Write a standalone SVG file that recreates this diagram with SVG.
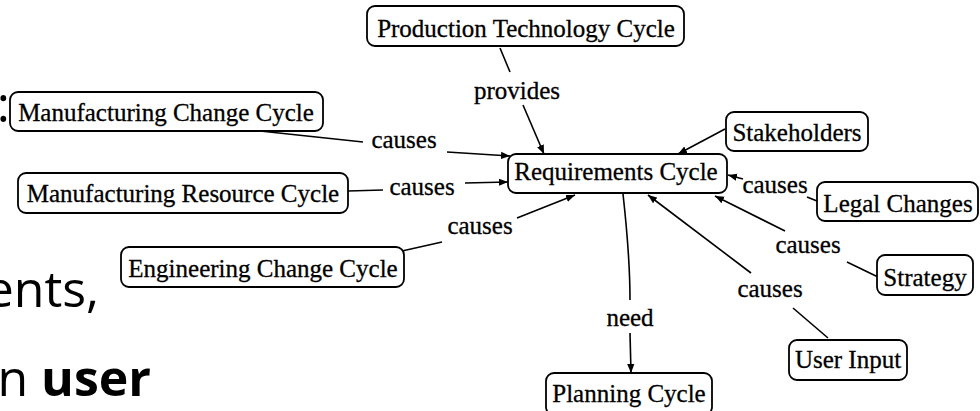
<svg xmlns="http://www.w3.org/2000/svg" width="980" height="411" viewBox="0 0 980 411">
<style>
.bg{font-family:"Open Sans","Noto Sans",sans-serif;font-size:50px;fill:#000}
.node rect{fill:#fff;stroke:#000;stroke-width:1.8}
.node text{font-family:"Liberation Serif","Times New Roman",serif;font-size:25px;fill:#000;stroke:#000;stroke-width:0.3;text-anchor:middle}
.edges path{fill:none;stroke:#000;stroke-width:1.6}
.edges text{font-family:"Liberation Serif","Times New Roman",serif;font-size:25px;fill:#000;stroke:#000;stroke-width:0.3;text-anchor:middle}
</style>
<defs>
<marker id="arr" viewBox="0 0 10 10" refX="10" refY="5" markerWidth="9" markerHeight="9" markerUnits="userSpaceOnUse" orient="auto">
<path d="M0,1 L10,5 L0,9 Z" fill="#000"/>
</marker>
</defs>
<rect width="980" height="411" fill="#fff"/>
<g id="background">
<text class="bg" x="10" y="122" text-anchor="end">:</text>
<text class="bg" x="99" y="307" text-anchor="end">ents,</text>
<text class="bg" x="151" y="396" text-anchor="end">n <tspan font-weight="bold">user</tspan></text>
</g>
<g class="edges" id="connectors">
<path d="M500,48 L510,72"/>
<text x="517" y="99">provides</text>
<path d="M523,105 L544,154" marker-end="url(#arr)"/>
<path d="M260,131 L363,142"/>
<text x="404" y="148">causes</text>
<path d="M447,152 L510,156" marker-end="url(#arr)"/>
<path d="M348,191 L383,190"/>
<text x="422" y="195">causes</text>
<path d="M465,183 L508,182" marker-end="url(#arr)"/>
<path d="M402,251 L442,242"/>
<text x="480" y="234">causes</text>
<path d="M517,218 L575,195" marker-end="url(#arr)"/>
<path d="M623,194 C627,230 630,260 630,300"/>
<text x="630" y="326">need</text>
<path d="M630,333 L631,373" marker-end="url(#arr)"/>
<path d="M725,129 L678,154" marker-end="url(#arr)"/>
<path d="M817,201 L807,197"/>
<text x="775" y="193">causes</text>
<path d="M743,179 L728,175" marker-end="url(#arr)"/>
<path d="M878,277 L847,262"/>
<text x="808" y="253">causes</text>
<path d="M785,231 L715,196" marker-end="url(#arr)"/>
<path d="M828,338 L793,308"/>
<text x="770" y="297">causes</text>
<path d="M751,273 L648,195" marker-end="url(#arr)"/>
</g>
<g class="node" id="production-technology-cycle"><rect x="367" y="6" width="317" height="40" rx="8"/><text x="526" y="37">Production Technology Cycle</text></g>
<g class="node" id="manufacturing-change-cycle"><rect x="10" y="92" width="313" height="39" rx="8"/><text x="166" y="121">Manufacturing Change Cycle</text></g>
<g class="node" id="manufacturing-resource-cycle"><rect x="18" y="173" width="330" height="40" rx="8"/><text x="183" y="202">Manufacturing Resource Cycle</text></g>
<g class="node" id="engineering-change-cycle"><rect x="121" y="247" width="283" height="40" rx="8"/><text x="263" y="277">Engineering Change Cycle</text></g>
<g class="node" id="requirements-cycle"><rect x="508" y="154" width="219" height="39" rx="8"/><text x="616" y="180">Requirements Cycle</text></g>
<g class="node" id="stakeholders"><rect x="726" y="112" width="142" height="39" rx="8"/><text x="797" y="141">Stakeholders</text></g>
<g class="node" id="legal-changes"><rect x="817" y="182" width="161" height="39" rx="8"/><text x="898" y="212">Legal Changes</text></g>
<g class="node" id="strategy"><rect x="877" y="255" width="96" height="40" rx="8"/><text x="925" y="286">Strategy</text></g>
<g class="node" id="user-input"><rect x="789" y="340" width="118" height="40" rx="8"/><text x="848" y="368">User Input</text></g>
<g class="node" id="planning-cycle"><rect x="546" y="373" width="166" height="42" rx="8"/><text x="629" y="402">Planning Cycle</text></g>
</svg>
